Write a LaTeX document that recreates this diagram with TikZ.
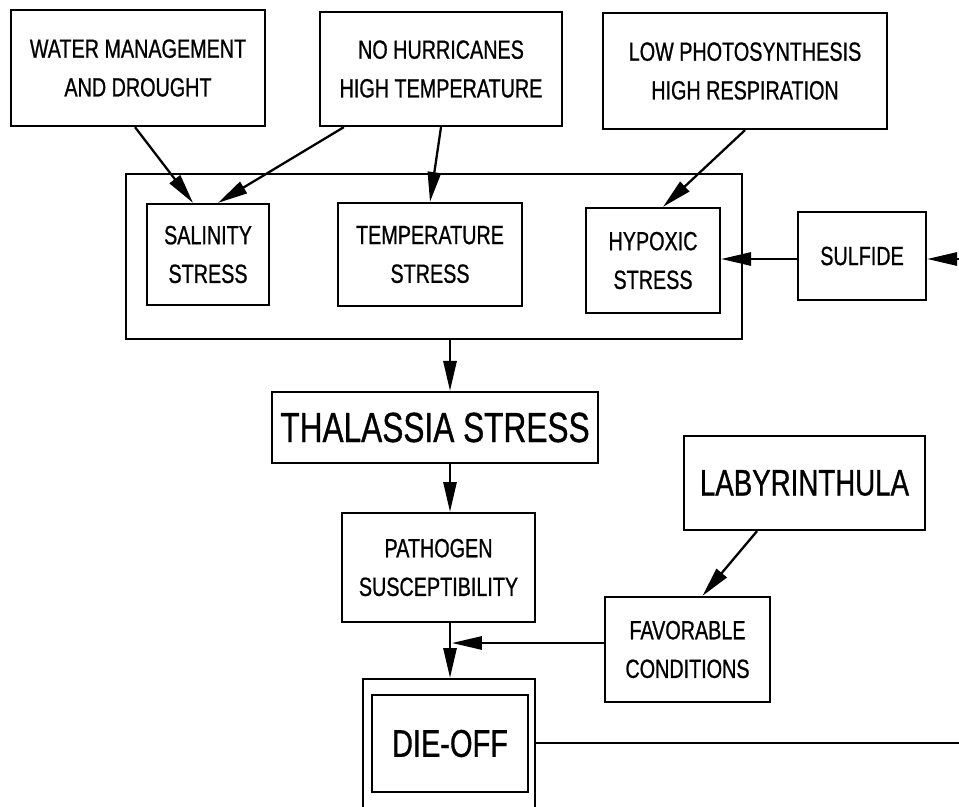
\documentclass[tikz,border=0pt]{standalone}
\usepackage{fontspec}
\setmainfont{Liberation Sans}[FakeStretch=0.75, FakeBold=0.8]
\usetikzlibrary{arrows.meta, positioning, calc}

\tikzset{
  cbox/.style={draw=black, line width=1.3pt, inner sep=0pt, align=center,
    font=\fontsize{15}{22}\selectfont},
  arr/.style={line width=1.3pt, -{Triangle[length=17pt,width=7.5pt]}},
  plain/.style={line width=1.3pt}
}

\begin{document}
\begin{tikzpicture}[x=0.02cm, y=-0.02cm]
    \useasboundingbox (0,0) rectangle (959,807);
    \clip (0,0) rectangle (959,807);
    % causes
    \node[cbox, minimum width=5.08cm, minimum height=2.32cm] (water) at (138,68) {WATER MANAGEMENT\\AND DROUGHT};
    \node[cbox, minimum width=4.84cm, minimum height=2.28cm] (hurr) at (441,69) {NO HURRICANES\\HIGH TEMPERATURE};
    \node[cbox, minimum width=5.68cm, minimum height=2.32cm] (lowps) at (745,71) {LOW PHOTOSYNTHESIS\\HIGH RESPIRATION};
    % stresses
    \node[cbox, minimum width=12.32cm, minimum height=3.30cm] (stressbox) at (434,256.5) {};
    \node[cbox, minimum width=2.44cm, minimum height=2.02cm] (salin) at (208,254.5) {SALINITY\\STRESS};
    \node[cbox, minimum width=3.68cm, minimum height=2.06cm] (temp) at (430,254.5) {TEMPERATURE\\STRESS};
    \node[cbox, minimum width=2.68cm, minimum height=2.10cm] (hypox) at (653,260.5) {HYPOXIC\\STRESS};
    \node[cbox, minimum width=2.56cm, minimum height=1.76cm] (sulf) at (862,256) {SULFIDE};
    % chain
    \node[cbox, minimum width=6.52cm, minimum height=1.42cm, font=\fontsize{24}{30}\selectfont] (thal) at (435,427.5) {THALASSIA STRESS};
    \node[cbox, minimum width=3.86cm, minimum height=2.18cm] (patho) at (438.5,567.5) {PATHOGEN\\SUSCEPTIBILITY};
    \node[cbox, minimum width=4.82cm, minimum height=1.88cm, font=\fontsize{21}{26}\selectfont] (laby) at (804.5,483) {LABYRINTHULA};
    \node[cbox, minimum width=3.30cm, minimum height=2.10cm] (favor) at (687.5,649.5) {FAVORABLE\\CONDITIONS};
    \node[cbox, minimum width=3.44cm, minimum height=3.04cm] (dieouter) at (449,755) {};
    \node[cbox, minimum width=3.12cm, minimum height=1.94cm, font=\fontsize{22}{26}\selectfont] (diein) at (450,743.5) {DIE-OFF};

    \coordinate (spine) at (450,0);
    \coordinate (sulfsrc) at (959,259);
    \coordinate (favjoin) at (452,643);
    \coordinate (dieexit) at (959,743);

    % arrows into the stresses
    \draw[arr] ([xshift=-0.06cm]water.south) -- ([xshift=-0.3cm]salin.north);
    \draw[arr] ([xshift=0.5cm]hurr.south west) -- ([xshift=0.2cm]salin.north);
    \draw[arr] (hurr.south) -- (temp.north);
    \draw[arr] (lowps.south) -- ([xshift=0.2cm]hypox.north);
    \draw[arr] (sulf.west |- sulfsrc) -- (hypox.east |- sulfsrc);
    \draw[arr] (sulfsrc) -- (sulfsrc -| sulf.east);
    % down the chain
    \draw[arr] (stressbox.south -| spine) -- (thal.north -| spine);
    \draw[arr] (thal.south -| spine) -- (patho.north -| spine);
    \draw[arr] (patho.south -| spine) -- (dieouter.north -| spine);
    \draw[arr] ([xshift=-0.95cm]laby.south) -- ([xshift=0.3cm]favor.north);
    \draw[arr] (favjoin -| favor.west) -- (favjoin);
    \draw[plain] (dieexit -| dieouter.east) -- (dieexit);
\end{tikzpicture}
\end{document}
